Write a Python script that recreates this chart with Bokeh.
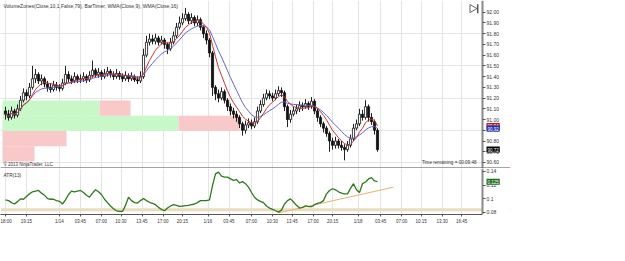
import numpy as np
from bokeh.plotting import figure
from bokeh.layouts import column
from bokeh.models import (Range1d, FixedTicker, Label, Span, NumeralTickFormatter,
                          ColumnDataSource, BoxAnnotation)
from bokeh.embed import file_html
from bokeh.resources import INLINE

# ---------------- data ----------------
opens = [91.08, 91.05, 91.02, 91.08, 91.04, 91.10, 91.18, 91.25, 91.22, 91.30,
         91.38, 91.42, 91.36, 91.38, 91.33, 91.30, 91.28, 91.32, 91.30, 91.29,
         91.34, 91.42, 91.38, 91.36, 91.40, 91.37, 91.38, 91.40, 91.37, 91.41,
         91.46, 91.42, 91.44, 91.40, 91.43, 91.45, 91.42, 91.40, 91.43, 91.40,
         91.38, 91.41, 91.38, 91.40, 91.37, 91.36, 91.40, 91.60, 91.72, 91.75,
         91.73, 91.76, 91.72, 91.74, 91.70, 91.66, 91.72, 91.78, 91.86, 91.90,
         91.94, 91.98, 91.92, 91.95, 91.90, 91.93, 91.86, 91.80, 91.74, 91.62,
         91.30, 91.24, 91.20, 91.26, 91.18, 91.12, 91.08, 91.05, 91.02, 90.96,
         90.90, 90.95, 90.97, 90.94, 90.98, 91.08, 91.14, 91.20, 91.24, 91.22,
         91.20, 91.24, 91.27, 91.25, 91.12, 91.00, 91.05, 91.08, 91.10, 91.13,
         91.12, 91.15, 91.12, 91.17, 91.08, 91.02, 90.96, 90.92, 90.87, 90.80,
         90.76, 90.80, 90.76, 90.74, 90.72, 90.76, 90.82, 90.92, 90.96, 91.05,
         91.02, 91.12, 91.02, 90.98, 90.90]
closes = [91.05, 91.02, 91.08, 91.04, 91.10, 91.18, 91.25, 91.22, 91.30, 91.38,
          91.42, 91.36, 91.38, 91.33, 91.30, 91.28, 91.32, 91.30, 91.29, 91.34,
          91.42, 91.38, 91.36, 91.40, 91.37, 91.38, 91.40, 91.37, 91.41, 91.46,
          91.42, 91.44, 91.40, 91.43, 91.45, 91.42, 91.40, 91.43, 91.40, 91.38,
          91.41, 91.38, 91.40, 91.37, 91.36, 91.40, 91.60, 91.72, 91.75, 91.73,
          91.76, 91.72, 91.74, 91.70, 91.66, 91.72, 91.78, 91.86, 91.90, 91.94,
          91.98, 91.92, 91.95, 91.90, 91.93, 91.86, 91.80, 91.74, 91.62, 91.30,
          91.24, 91.20, 91.26, 91.18, 91.12, 91.08, 91.05, 91.02, 90.96, 90.90,
          90.95, 90.97, 90.94, 90.98, 91.08, 91.14, 91.20, 91.24, 91.22, 91.20,
          91.24, 91.27, 91.25, 91.12, 91.00, 91.05, 91.08, 91.10, 91.13, 91.12,
          91.15, 91.12, 91.17, 91.08, 91.02, 90.96, 90.92, 90.87, 90.80, 90.76,
          90.80, 90.76, 90.74, 90.72, 90.76, 90.82, 90.92, 90.96, 91.05, 91.02,
          91.12, 91.02, 90.98, 90.90, 90.72]
highs = [91.12, 91.09, 91.12, 91.10, 91.14, 91.22, 91.29, 91.28, 91.34, 91.50,
         91.47, 91.44, 91.42, 91.40, 91.36, 91.34, 91.36, 91.35, 91.33, 91.38,
         91.50, 91.45, 91.41, 91.44, 91.42, 91.42, 91.44, 91.42, 91.45, 91.55,
         91.48, 91.48, 91.46, 91.47, 91.49, 91.47, 91.45, 91.47, 91.45, 91.43,
         91.45, 91.43, 91.44, 91.42, 91.40, 91.45, 91.66, 91.78, 91.80, 91.79,
         91.80, 91.78, 91.78, 91.76, 91.72, 91.76, 91.82, 91.90, 91.96, 91.99,
         92.04, 92.00, 91.99, 91.97, 91.97, 91.95, 91.88, 91.83, 91.76, 91.64,
         91.32, 91.28, 91.30, 91.28, 91.20, 91.15, 91.11, 91.08, 91.04, 90.98,
         90.99, 91.01, 91.00, 91.02, 91.12, 91.18, 91.24, 91.28, 91.27, 91.25,
         91.28, 91.31, 91.30, 91.27, 91.14, 91.09, 91.12, 91.14, 91.17, 91.16,
         91.19, 91.17, 91.21, 91.19, 91.10, 91.04, 90.98, 90.94, 90.89, 90.83,
         90.84, 90.82, 90.80, 90.77, 90.80, 90.86, 90.96, 91.00, 91.10, 91.09,
         91.18, 91.14, 91.06, 91.00, 90.92]
lows = [91.00, 90.99, 91.00, 91.01, 91.02, 91.08, 91.16, 91.18, 91.20, 91.28,
        91.34, 91.33, 91.32, 91.30, 91.26, 91.25, 91.26, 91.27, 91.26, 91.27,
        91.32, 91.35, 91.33, 91.34, 91.34, 91.34, 91.35, 91.34, 91.35, 91.39,
        91.39, 91.39, 91.37, 91.38, 91.40, 91.39, 91.37, 91.38, 91.37, 91.35,
        91.36, 91.35, 91.36, 91.35, 91.33, 91.34, 91.38, 91.58, 91.69, 91.70,
        91.70, 91.69, 91.70, 91.66, 91.61, 91.64, 91.70, 91.76, 91.84, 91.88,
        91.92, 91.89, 91.89, 91.87, 91.87, 91.83, 91.76, 91.70, 91.58, 91.22,
        91.18, 91.16, 91.18, 91.15, 91.08, 91.04, 91.01, 90.98, 90.92, 90.85,
        90.87, 90.92, 90.91, 90.92, 90.96, 91.06, 91.12, 91.18, 91.19, 91.17,
        91.18, 91.22, 91.21, 91.08, 90.93, 90.97, 91.03, 91.05, 91.07, 91.08,
        91.10, 91.09, 91.10, 91.05, 90.98, 90.93, 90.88, 90.84, 90.70, 90.72,
        90.73, 90.73, 90.71, 90.62, 90.70, 90.74, 90.80, 90.90, 90.94, 90.99,
        91.00, 90.98, 90.95, 90.86, 90.70]
atr_values = [0.098, 0.097, 0.094, 0.092, 0.0955, 0.0995, 0.099, 0.103, 0.107, 0.110,
              0.111, 0.112, 0.108, 0.105, 0.100, 0.099, 0.099, 0.097, 0.096, 0.092,
              0.098, 0.106, 0.111, 0.110, 0.111, 0.112, 0.109, 0.105, 0.102, 0.108,
              0.113, 0.110, 0.106, 0.099, 0.094, 0.089, 0.085, 0.082, 0.081, 0.081,
              0.090, 0.102, 0.097, 0.094, 0.0935, 0.097, 0.100, 0.097, 0.0945, 0.093,
              0.091, 0.087, 0.084, 0.082, 0.086, 0.089, 0.091, 0.090, 0.0885, 0.089,
              0.0895, 0.090, 0.091, 0.092, 0.094, 0.097, 0.097, 0.097, 0.098, 0.119,
              0.1365, 0.139, 0.133, 0.1316, 0.1316, 0.129, 0.127, 0.128, 0.123, 0.125,
              0.122, 0.117, 0.109, 0.102, 0.098, 0.096, 0.094, 0.089, 0.086, 0.084,
              0.082, 0.080, 0.083, 0.092, 0.097, 0.0995, 0.095, 0.090, 0.086, 0.087,
              0.0895, 0.088, 0.088, 0.091, 0.093, 0.094, 0.097, 0.107, 0.112, 0.1145,
              0.113, 0.110, 0.108, 0.107, 0.107, 0.115, 0.122, 0.113, 0.109, 0.122,
              0.1245, 0.129, 0.131, 0.126, 0.125]

tick_bars = [0, 7, 18, 25, 32, 38.5, 45.5, 52.5, 59, 67.5, 74.5,
             82, 89, 95.5, 102.5, 109, 117.5, 125, 132, 138.5, 145.5, 152]
tick_labels = ["18:00", "19:15", "1/14", "03:45", "07:00", "10:30", "13:45", "17:00",
               "20:15", "1/16", "03:45", "07:00", "10:30", "13:45", "17:00", "20:15",
               "1/18", "03:45", "07:00", "10:15", "13:30", "16:45"]
price_ticks = [90.6, 90.7, 90.8, 90.9, 91.0, 91.1, 91.2, 91.3, 91.4, 91.5,
               91.6, 91.7, 91.8, 91.9, 92.0]
price_grid = [90.6, 90.9, 91.2, 91.5, 91.8]
atr_ticks = [0.08, 0.1, 0.12, 0.14]

zone_lo = [91.036, 90.894, 90.752, 90.610]
zone_hi = [91.178, 91.036, 90.894, 90.752]
zone_buy = [970, 1760, 0, 0]
zone_sell = [310, 610, 640, 320]

atr_level = 0.0835
trend_bars = [91.0, 129.3]
trend_vals = [0.0789, 0.1168]

header = "VolumeZones(Close,10,1,False,79), BarTimer, WMA(Close,9), WMA(Close,16)"
FONT = "Liberation Sans"

# ---------------- derived ----------------
N = len(closes)
idx = np.arange(N)
o = np.array(opens); c = np.array(closes); h = np.array(highs); l = np.array(lows)


def wma(vals, n):
    out = []
    for i in range(len(vals)):
        w = np.array(vals[max(0, i - n + 1):i + 1])
        k = np.arange(1, len(w) + 1)
        out.append(float((w * k).sum() / k.sum()))
    return out


wma9 = wma(closes, 9)
wma16 = wma(closes, 16)

X0 = -5 / 3          # left edge of the chart area (bar units)
AXIS_AT = 159.0      # bar-unit position where the price scale sits
x_rng = Range1d(X0, 168.33)


def style_right_axis(ax, ticks, size="5px"):
    ax.fixed_location = AXIS_AT
    ax.ticker = FixedTicker(ticks=ticks)
    ax.axis_line_color = "#8a8a8a"
    ax.axis_line_width = 2
    ax.major_tick_line_color = "#555555"
    ax.major_tick_out = 3
    ax.major_tick_in = 0
    ax.minor_tick_out = 0
    ax.minor_tick_in = 0
    ax.major_label_standoff = 1
    ax.major_label_text_font = FONT
    ax.major_label_text_font_size = size
    ax.major_label_text_color = "#333333"


def tag(p, y, text, color):
    p.add_layout(Label(x=AXIS_AT, y=y, text=text, x_offset=4, text_font=FONT,
                       text_font_size="4.5px", text_color="white", text_baseline="middle",
                       background_fill_color=color, padding=1))


# ---------------- price panel ----------------
p1 = figure(width=625, height=168, x_range=x_rng, y_range=Range1d(90.544, 92.109),
            x_axis_location=None, y_axis_location="right",
            output_backend="svg", toolbar_location=None,
            min_border_left=0, min_border_right=115, min_border_top=0, min_border_bottom=0)
p1.outline_line_color = None
p1.background_fill_color = "white"
p1.xgrid.ticker = FixedTicker(ticks=tick_bars)
p1.ygrid.ticker = FixedTicker(ticks=price_grid)
for g in (p1.xgrid, p1.ygrid):
    g.grid_line_color = "#e4e4e4"
    g.grid_line_width = 1
p1.add_layout(BoxAnnotation(left=AXIS_AT, fill_color="white", fill_alpha=1,
                            line_color=None, level="underlay"))

ya = p1.yaxis[0]
style_right_axis(ya, price_ticks)
ya.formatter = NumeralTickFormatter(format="0.00")

# volume zones
buy_left = [-1.0] * len(zone_buy)
buy_right = [-1.0 + v / 30 for v in zone_buy]
sell_right = [br + v / 30 for br, v in zip(buy_right, zone_sell)]
zsrc = ColumnDataSource(dict(top=zone_hi, bottom=zone_lo, bl=buy_left, br=buy_right, sr=sell_right))
p1.quad(left="bl", right="br", top="top", bottom="bottom", source=zsrc,
        fill_color="#c8f7c8", line_color=None)
p1.quad(left="br", right="sr", top="top", bottom="bottom", source=zsrc,
        fill_color="#f9c8c8", line_color=None)

# candles
inc = c >= o
p1.segment(idx, h, idx, l, color="#222222", line_width=1)
p1.vbar(idx[inc], 0.72, o[inc], c[inc], fill_color="white", line_color="#111111", line_width=0.8)
p1.vbar(idx[~inc], 0.72, o[~inc], c[~inc], fill_color="#111111", line_color="#111111", line_width=0.8)

# WMAs
p1.line(idx, wma16, color="#6464c4", line_width=1)
p1.line(idx, wma9, color="#c03636", line_width=1)

# panel separator
p1.add_layout(Span(location=90.549, dimension="width", line_color="#5a5a5a", line_width=1))

# texts
p1.add_layout(Label(x=-0.7, y=92.06, text=header, text_font=FONT, text_font_size="5px",
                    text_color="#333333", text_baseline="middle"))
p1.add_layout(Label(x=-0.7, y=90.585, text="\u00a9 2013 NinjaTrader, LLC", text_font=FONT,
                    text_font_size="4.5px", text_color="#333333", text_baseline="middle"))
p1.add_layout(Label(x=157, y=90.60, text="Time remaining = 00:09:48", text_font=FONT,
                    text_font_size="4.6px", text_color="#333333", text_baseline="middle",
                    text_align="right"))

# scroll icon
p1.scatter([155.6], [92.034], marker="triangle", size=8, angle=-np.pi / 2,
           fill_color="white", line_color="#666666", line_width=1)
p1.segment([157.4], [92.075], [157.4], [91.99], color="#555555", line_width=1.5)

# price markers
tag(p1, wma9[-1], f"{wma9[-1]:.2f}", "#c01818")
tag(p1, wma16[-1], f"{wma16[-1]:.2f}", "#1f2fb8")
tag(p1, closes[-1], f"{closes[-1]:.2f}", "#000000")

# ---------------- ATR panel ----------------
p2 = figure(width=625, height=93, x_range=x_rng, y_range=Range1d(0.0765, 0.1444),
            y_axis_location="right", output_backend="svg", toolbar_location=None,
            min_border_left=0, min_border_right=115, min_border_top=0, min_border_bottom=47)
p2.outline_line_color = None
p2.xgrid.ticker = FixedTicker(ticks=tick_bars)
p2.xgrid.grid_line_color = "#e4e4e4"
p2.ygrid.visible = False
p2.add_layout(Span(location=atr_level, dimension="width", line_color="#eadcbc",
                   line_width=3, level="underlay"))
p2.add_layout(BoxAnnotation(left=AXIS_AT, fill_color="white", fill_alpha=1,
                            line_color=None, level="underlay"))

xa = p2.xaxis[0]
xa.bounds = (X0, AXIS_AT)
xa.ticker = FixedTicker(ticks=tick_bars)
xa.major_label_overrides = {t: s for t, s in zip(tick_bars, tick_labels)}
xa.axis_line_color = "#555555"
xa.major_tick_line_color = "#555555"
xa.major_tick_out = 2
xa.major_tick_in = 0
xa.minor_tick_out = 0
xa.minor_tick_in = 0
xa.major_label_standoff = 2
xa.major_label_text_font = FONT
xa.major_label_text_font_size = "4.5px"
xa.major_label_text_color = "#333333"

ya2 = p2.yaxis[0]
style_right_axis(ya2, atr_ticks)
ya2.major_label_overrides = {0.1: "0.1"}

p2.line(trend_bars, trend_vals, color="#e2b36e", line_width=1)
p2.line(idx, atr_values, color="#2c7a1c", line_width=1.3)

p2.add_layout(Label(x=-0.7, y=0.134, text="ATR(13)", text_font=FONT, text_font_size="4.8px",
                    text_color="#333333", text_baseline="middle"))
tag(p2, atr_values[-1], f"{atr_values[-1]:.3f}", "#1e6e1e")

layout = column(p1, p2, spacing=0)
open("out.html", "w").write(file_html(layout, INLINE))
